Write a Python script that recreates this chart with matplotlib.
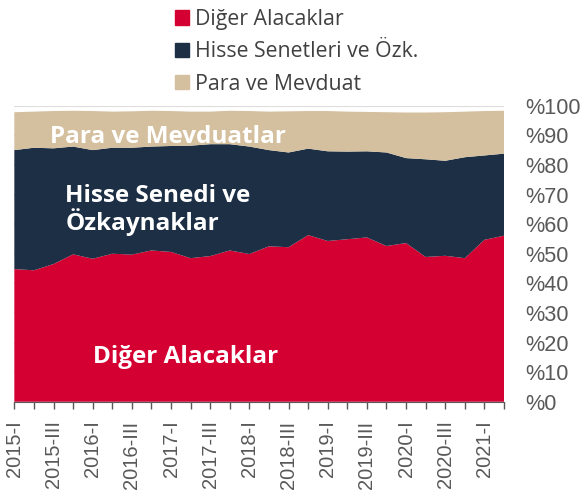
import matplotlib
matplotlib.use("Agg")
import matplotlib.pyplot as plt
from matplotlib.patches import Patch

# donemler: 2015-I ... 2021-II
yillar = range(2015, 2022)
romen = ['I', 'II', 'III', 'IV']
donemler = ['{}-{}'.format(y, r) for y in yillar for r in romen][:26]

# katman degerleri (%)
diger = [44.8, 44.4, 46.5, 49.8, 48.3, 50.0, 49.7, 51.1, 50.6, 48.5, 49.2, 51.1, 49.9,
         52.5, 52.2, 56.3, 54.3, 54.9, 55.5, 52.6, 53.6, 48.9, 49.3, 48.5, 54.7, 56.1]
hisse_ust = [85.0, 85.8, 85.6, 86.2, 85.0, 85.8, 85.8, 86.2, 86.4, 86.5, 87.0, 87.0, 86.2,
             85.0, 84.2, 85.5, 84.6, 84.5, 84.6, 84.2, 82.3, 81.9, 81.4, 82.6, 83.2, 83.8]
toplam = [97.8, 98.0, 98.2, 98.3, 98.2, 98.0, 98.1, 98.3, 98.2, 98.0, 98.0, 98.3, 98.2,
          98.0, 98.1, 98.2, 98.2, 98.0, 97.9, 97.8, 97.7, 97.7, 97.8, 98.0, 98.2, 98.3]
hisse = [h - d for h, d in zip(hisse_ust, diger)]
para = [t - h for t, h in zip(toplam, hisse_ust)]

kirmizi = '#D50032'
lacivert = '#1C2F44'
bej = '#D4BF9E'
gri = '#595959'

fig = plt.figure(figsize=(5.8, 4.94), dpi=100)
ax = fig.add_axes([0.0247, 0.1868, 0.8443, 0.5992])

x = list(range(len(donemler)))
ax.stackplot(x, diger, hisse, para, colors=[kirmizi, lacivert, bej], lw=0)

ax.set_xlim(0, 25)
ax.set_ylim(0, 100)
ax.set_yticks(range(0, 101, 10))
ax.set_yticklabels(['%{}'.format(v) for v in range(0, 101, 10)],
                   fontsize=15.6, color=gri, family='Liberation Sans')
ax.yaxis.grid(True, color='#DDDDDD', lw=1.5)
ax.set_axisbelow(True)
ax.tick_params(axis='y', left=False, right=False, labelleft=False, labelright=True,
               length=0, pad=15.5)

ax.set_xticks(x)
ax.set_xticklabels([d if i % 2 == 0 else '' for i, d in enumerate(donemler)],
                   rotation=90, fontsize=14.5, color=gri, family='Liberation Sans')
ax.tick_params(axis='x', length=5, color=gri, width=1, pad=8.5)

for s in ['top', 'left', 'right']:
    ax.spines[s].set_visible(False)
ax.spines['bottom'].set_color(gri)

# alan ici etiketler
ax.text(1.8, 89.6, 'Para ve Mevduatlar', color='white', fontsize=17.5,
        fontweight='bold', family='Open Sans', va='center')
ax.text(2.6, 64.7, 'Hisse Senedi ve\nÖzkaynaklar', color='white', fontsize=17.5,
        fontweight='bold', family='Open Sans', va='center', linespacing=1.02)
ax.text(4.0, 15, 'Diğer Alacaklar', color='white', fontsize=17.5,
        fontweight='bold', family='Open Sans', va='center')

handles = [Patch(color=kirmizi), Patch(color=lacivert), Patch(color=bej)]
fig.legend(handles, ['Diğer Alacaklar', 'Hisse Senetleri ve Özk.', 'Para ve Mevduat'],
           loc='upper left', bbox_to_anchor=(0.298, 0.986), frameon=False,
           prop={'family': 'Open Sans', 'size': 15.3}, labelcolor='#404040',
           handlelength=0.65, handleheight=0.65, handletextpad=0.3,
           labelspacing=0.53, borderaxespad=0, borderpad=0.1)

fig.savefig('out.png', dpi=100)
